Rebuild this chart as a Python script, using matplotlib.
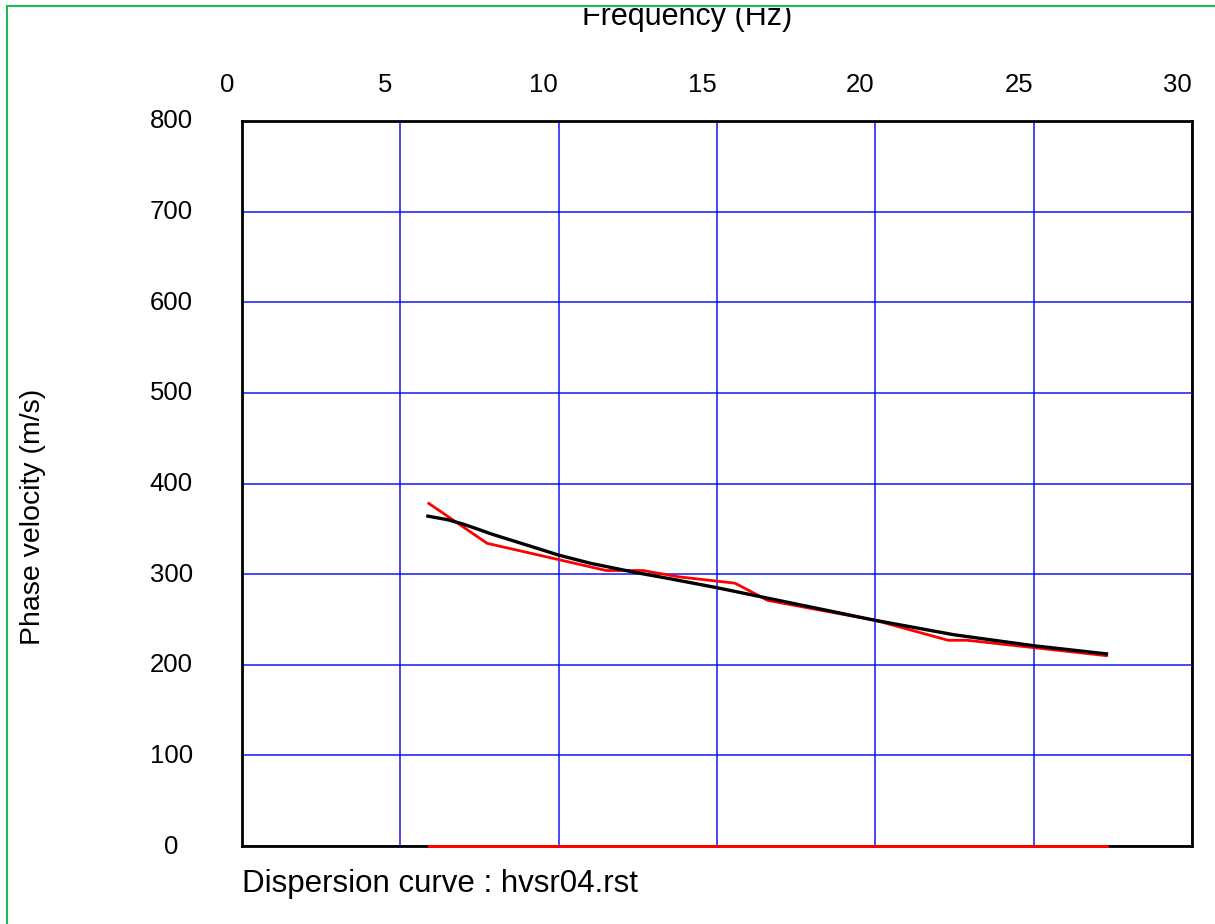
import matplotlib
matplotlib.use('Agg')
import matplotlib.pyplot as plt
import matplotlib.transforms as mtransforms
from matplotlib.patches import Rectangle
from matplotlib.lines import Line2D

plt.rcParams['font.family'] = ['Liberation Sans', 'DejaVu Sans']

# ============================================================
# 数据
# ============================================================
# 观测频散曲线（红）
freq_obs = [5.9, 7.74, 10.0, 11.5, 12.66, 13.8, 15.57, 16.6, 20.0, 22.3, 22.9, 27.3]
vel_obs = [378, 334, 316, 304, 304, 297, 290, 271, 249, 227, 227, 210]

# 理论频散曲线（黑）
freq_fit = [5.87, 6.5, 7.0, 7.5, 7.9, 9.0, 10.0, 11.0, 12.4, 13.5, 15.0, 17.5, 20.0, 22.5, 25.0, 27.3]
vel_fit = [364, 360, 355, 349, 344, 332, 321, 312, 302, 295, 285, 267, 249, 233, 221, 212]

# 底部误差线（红，值为 0）
freq_err = [5.9, 27.3]
err_val = [0, 0]

x_ticks = [0, 5, 10, 15, 20, 25, 30]
y_ticks = [0, 100, 200, 300, 400, 500, 600, 700, 800]

# ============================================================
# 画图
# ============================================================
fig = plt.figure(figsize=(12.15, 9.24), dpi=100)
ax = fig.add_axes([242 / 1215, 78 / 924, 950 / 1215, 725 / 924])

ax.set_xlim(0, 30)
ax.set_ylim(0, 800)
ax.set_xticks(x_ticks)
ax.set_yticks(y_ticks)
ax.grid(True, color='#0000ff', linewidth=1.2, alpha=0.85)
ax.set_axisbelow(True)

ax.plot(freq_obs, vel_obs, color='#ff0000', linewidth=2.0, zorder=3)
ax.plot(freq_fit, vel_fit, color='black', linewidth=2.4, zorder=4)
ax.plot(freq_err, err_val, color='#ff0000', linewidth=2.2, zorder=6, clip_on=False)

for s in ax.spines.values():
    s.set_linewidth(2.0)
    s.set_color('black')
    s.set_zorder(5)

# 刻度标签
ax.xaxis.tick_top()
ax.tick_params(axis='x', length=0, pad=17, labelsize=18.5)
ax.tick_params(axis='y', length=0, pad=51, labelsize=18.5)
offset_x = mtransforms.ScaledTranslation(-15 / 100, 0, fig.dpi_scale_trans)
for lab in ax.get_xticklabels():
    lab.set_transform(lab.get_transform() + offset_x)
offset_y = mtransforms.ScaledTranslation(0, 2 / 100, fig.dpi_scale_trans)
for lab in ax.get_yticklabels():
    lab.set_horizontalalignment('center')
    lab.set_transform(lab.get_transform() + offset_y)

# 轴标题
fig.text(687 / 1215, 1 - 25 / 924, 'Frequency (Hz)', ha='center', va='baseline', fontsize=22)
fig.text(33 / 1215, 1 - 517 / 924, 'Phase velocity (m/s)', ha='center', va='center',
         rotation=90, fontsize=20.5)
fig.text(242 / 1215, 1 - 892 / 924, 'Dispersion curve : hvsr04.rst', ha='left',
         va='baseline', fontsize=22.5)

# 顶部遮挡 + 绿色边框
fig.patches.append(Rectangle((0, 1 - 8 / 924), 1, 8 / 924, transform=fig.transFigure,
                             facecolor='white', edgecolor='none', zorder=10))
fig.lines.append(Line2D([7 / 1215, 1], [1 - 6 / 924, 1 - 6 / 924], transform=fig.transFigure,
                        color='#1fba55', linewidth=1.5, zorder=11))
fig.lines.append(Line2D([7 / 1215, 7 / 1215], [0, 1 - 6 / 924], transform=fig.transFigure,
                        color='#1fba55', linewidth=1.5, zorder=11))

fig.savefig('out.png', dpi=100)
